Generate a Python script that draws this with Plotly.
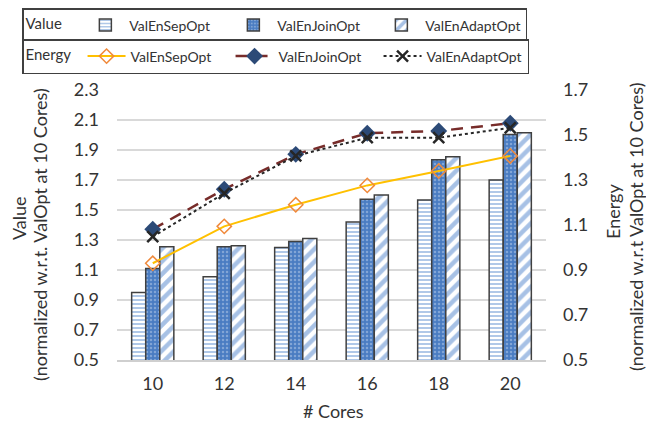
import plotly.graph_objects as go

cores = ["10", "12", "14", "16", "18", "20"]

value_sep = [0.95, 1.055, 1.25, 1.42, 1.567, 1.70]
value_join = [1.11, 1.255, 1.29, 1.571, 1.835, 2.004]
value_adapt = [1.255, 1.262, 1.31, 1.60, 1.855, 2.015]

energy_sep = [0.93, 1.094, 1.19, 1.276, 1.34, 1.407]
energy_join = [1.081, 1.259, 1.414, 1.508, 1.518, 1.552]
energy_adapt = [1.048, 1.241, 1.407, 1.488, 1.488, 1.532]

left_ticks = [0.5, 0.7, 0.9, 1.1, 1.3, 1.5, 1.7, 1.9, 2.1, 2.3]
right_ticks = [0.5, 0.7, 0.9, 1.1, 1.3, 1.5, 1.7]

FONT = "Lato"
TXT = "#333333"
BLUE = "#4f84cc"
EDGE = "#404040"
FS = 18
LFS = 14

fig = go.Figure()

fig.add_trace(go.Bar(
    x=cores, y=value_sep, name="ValEnSepOpt", legend="legend",
    marker=dict(color="white", line=dict(color=EDGE, width=1.5),
                pattern=dict(shape="-", fgcolor=BLUE, bgcolor="white", size=4, solidity=0.45)),
))
fig.add_trace(go.Bar(
    x=cores, y=value_join, name="ValEnJoinOpt", legend="legend",
    marker=dict(color="#4f80c4", line=dict(color=EDGE, width=1.5),
                pattern=dict(shape=".", fgcolor="#b9cdea", bgcolor="#4a7cc2", size=4, solidity=0.3)),
))
fig.add_trace(go.Bar(
    x=cores, y=value_adapt, name="ValEnAdaptOpt", legend="legend",
    marker=dict(color="white", line=dict(color=EDGE, width=1.5),
                pattern=dict(shape="/", fgcolor=BLUE, bgcolor="white", size=9, solidity=0.5)),
))

fig.add_trace(go.Scatter(
    x=cores, y=energy_sep, name="ValEnSepOpt", yaxis="y2", legend="legend2",
    mode="lines+markers",
    line=dict(color="#FFC000", width=2),
    marker=dict(symbol="diamond-open", size=11, color="#F08A3C", line=dict(width=1.5, color="#F08A3C")),
))
fig.add_trace(go.Scatter(
    x=cores, y=energy_join, name="ValEnJoinOpt", yaxis="y2", legend="legend2",
    mode="lines+markers",
    line=dict(color="#772c2a", width=2.5, dash="12px,8px"),
    marker=dict(symbol="diamond", size=13, color="#2c4a77"),
))
fig.add_trace(go.Scatter(
    x=cores, y=energy_adapt, name="ValEnAdaptOpt", yaxis="y2", legend="legend2",
    mode="lines+markers",
    line=dict(color="#262626", width=2, dash="dot"),
    marker=dict(symbol="x-thin", size=11, color="#262626", line=dict(width=2.5, color="#262626")),
))

# page body has an 8px margin; positions below are in window pixels
def px_x(p):
    return (p - 117) / 429.0

def px_y(p):
    return (360 - p) / 270.0

fig.update_layout(
    width=646, height=422,
    margin=dict(l=109, r=108, t=82, b=70, autoexpand=False),
    paper_bgcolor="white", plot_bgcolor="white",
    font=dict(family=FONT, size=FS, color=TXT),
    barmode="group", bargap=0.41, bargroupgap=0,
    showlegend=True,
    xaxis=dict(type="category", showline=True, linecolor="#cfcfcf", linewidth=2,
               ticks="", tickfont=dict(size=FS, color=TXT), ticklabelstandoff=6),
    yaxis=dict(range=[0.5, 2.3], tickvals=left_ticks, tickformat=".1f",
               showgrid=True, gridcolor="#d9d9d9", gridwidth=1.5,
               zeroline=False, ticks="", ticklabelstandoff=17,
               tickfont=dict(size=FS, color=TXT)),
    yaxis2=dict(range=[0.5, 1.7], tickvals=right_ticks, tickformat=".1f",
                overlaying="y", side="right", showgrid=False, zeroline=False,
                ticks="", ticklabelstandoff=16, tickfont=dict(size=FS, color=TXT)),
    legend=dict(orientation="h", x=px_x(22), y=px_y(8), xanchor="left", yanchor="top",
                bordercolor="#404040", borderwidth=1.5, bgcolor="white",
                title=dict(text="Value\u00a0\u00a0\u00a0", side="left", font=dict(size=LFS + 1, color=TXT)),
                font=dict(size=LFS, color=TXT), itemwidth=38,
                entrywidth=95, entrywidthmode="pixels", traceorder="normal"),
    legend2=dict(orientation="h", x=px_x(22), y=px_y(39), xanchor="left", yanchor="top",
                 bordercolor="#404040", borderwidth=1.5, bgcolor="white",
                 title=dict(text="Energy\u00a0", side="left", font=dict(size=LFS + 1, color=TXT)),
                 font=dict(size=LFS, color=TXT), itemwidth=38,
                 entrywidth=95, entrywidthmode="pixels", traceorder="normal"),
    annotations=[
        dict(text="Value", x=px_x(19), y=px_y(218), xref="paper", yref="paper",
             showarrow=False, textangle=-90, xanchor="center", yanchor="middle",
             font=dict(size=FS, color=TXT)),
        dict(text="(normalized w.r.t. ValOpt at 10 Cores)", x=px_x(40), y=px_y(235),
             xref="paper", yref="paper", showarrow=False, textangle=-90,
             xanchor="center", yanchor="middle", font=dict(size=FS, color=TXT)),
        dict(text="Energy", x=px_x(613), y=px_y(212), xref="paper", yref="paper",
             showarrow=False, textangle=-90, xanchor="center", yanchor="middle",
             font=dict(size=FS, color=TXT)),
        dict(text="(normalized w.r.t ValOpt at 10 Cores)", x=px_x(636), y=px_y(227),
             xref="paper", yref="paper", showarrow=False, textangle=-90,
             xanchor="center", yanchor="middle", font=dict(size=FS, color=TXT)),
        dict(text="# Cores", x=px_x(333), y=px_y(411), xref="paper", yref="paper",
             showarrow=False, xanchor="center", yanchor="middle",
             font=dict(size=FS, color=TXT)),
    ],
)

fig.write_html("out.html")
